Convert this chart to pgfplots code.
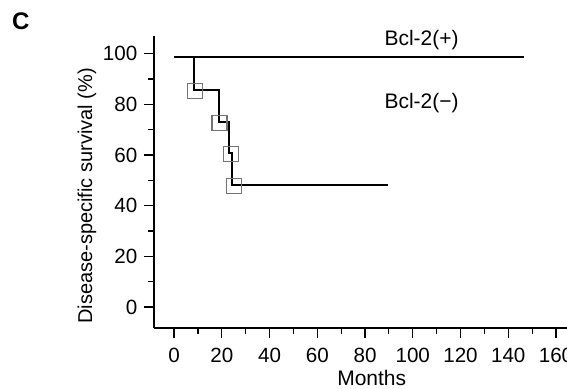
\documentclass[border=0pt]{standalone}
\usepackage{pgfplots}
\pgfplotsset{compat=1.18}
\usepackage{fontspec}
\setmainfont{Liberation Sans}
\begin{document}
\begin{tikzpicture}
\begin{axis}[
  at={(0,0)}, anchor=south west,
  scale only axis, width=217.7pt, height=146pt,
  xmin=-8.4, xmax=174, ymin=-8.3, ymax=107,
  axis x line*=bottom, axis y line*=left,
  axis line style={line width=0.75pt},
  xtick={0,20,...,160}, ytick={0,20,...,100},
  minor x tick num=1, minor y tick num=1,
  tick align=outside,
  major tick length=4.8pt, minor tick length=2.8pt,
  tick style={black, line width=0.6pt},
  /pgf/number format/assume math mode=true,
  tick label style={font=\fontsize{10.3}{12}\selectfont},
  xticklabel style={yshift=-1.5pt},
  xlabel={Months},
  ylabel={Disease-specific survival (\%)},
  x label style={font=\fontsize{10.5}{12}\selectfont, at={(axis description cs:0.5,0)}, anchor=base, yshift=-28.8pt},
  y label style={font=\fontsize{10}{12}\selectfont, at={(axis description cs:-0.154,0.452)}, anchor=center},
  clip=false,
]
\addplot[black, line width=1.1pt] coordinates {(0,98.6) (146.6,98.6)};
\addplot[const plot, black, line width=1.1pt] coordinates {(0,98.6) (8.4,85.7) (18.7,73.1) (23.0,60.8) (24.3,48.1) (89.6,48.1)};
\addplot[only marks, mark=square, mark size=3.75pt, black!55, mark options={line width=0.6pt}] coordinates {(8.8,85.4) (19.0,72.8) (24.0,60.5) (25.0,47.9)};
\node[font=\fontsize{10.5}{12}\selectfont] at (axis cs:103.7,105.4) {Bcl-2(+)};
\node[font=\fontsize{10.5}{12}\selectfont] at (axis cs:103.7,80.5) {Bcl-2(−)};
\end{axis}
\node[font=\fontsize{12}{14}\selectfont\bfseries] at (-66.65pt,153.15pt) {C};
\pgfresetboundingbox
\useasboundingbox (-77pt,-30.5pt) rectangle (206.5pt,164pt);
\end{tikzpicture}
\end{document}
